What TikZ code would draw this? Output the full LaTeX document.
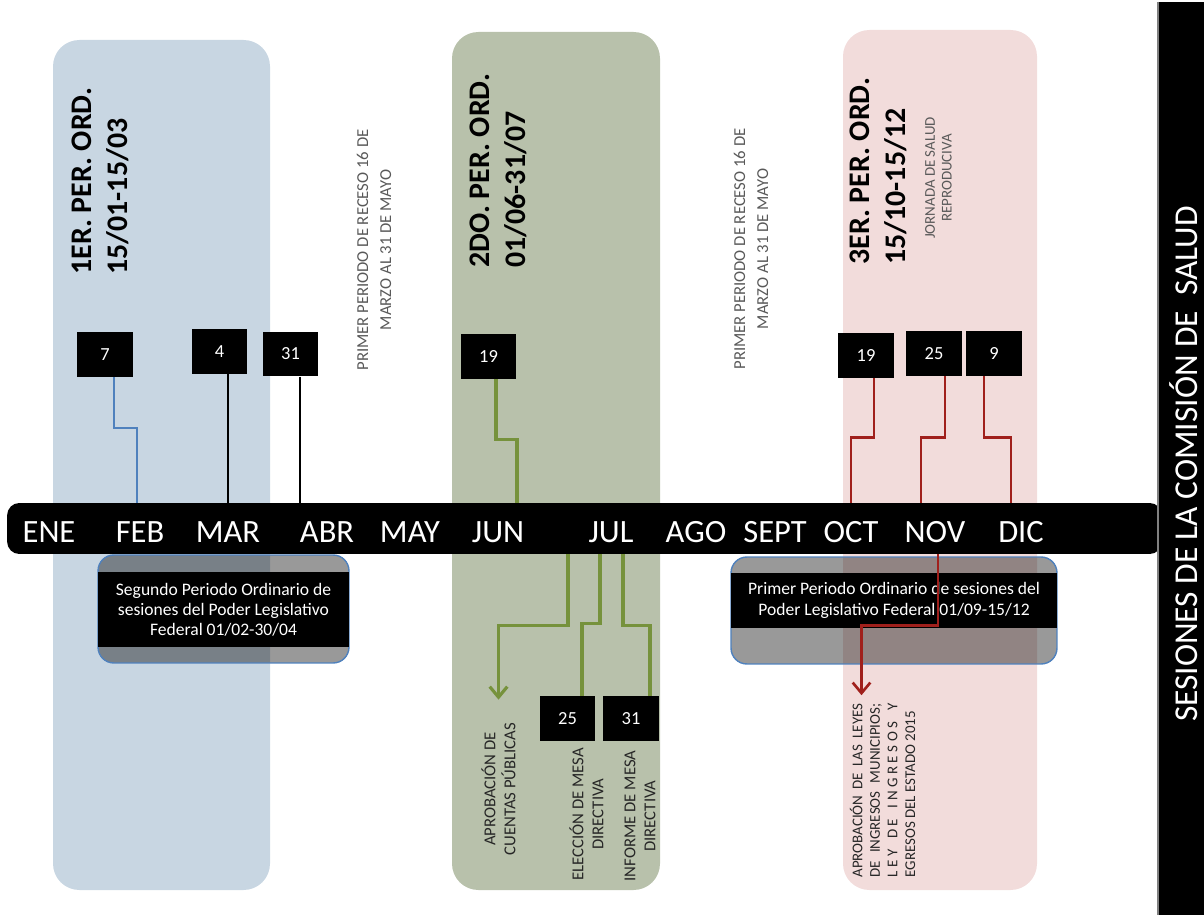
\documentclass[tikz,border=0pt]{standalone}
\usepackage{fontspec}
\setmainfont{Carlito}
\usepackage{tikz}
\usetikzlibrary{arrows.meta, positioning, calc}

\definecolor{boxblue}{RGB}{200,214,226}
\definecolor{boxgreen}{RGB}{184,193,171}
\definecolor{boxpink}{RGB}{242,220,219}
\definecolor{lineblue}{RGB}{79,129,189}
\definecolor{linegreen}{RGB}{118,146,60}
\definecolor{linered}{RGB}{160,32,28}
\definecolor{recessgray}{RGB}{89,89,89}

\tikzset{
  datebox/.style={fill=black, text=white, minimum width=31.5pt, minimum height=25.5pt, inner sep=0pt, font=\fontsize{10.5}{12}\selectfont},
  month/.style={text=white, inner sep=0pt, font=\fontsize{18.5}{20}\selectfont},
  pertitle/.style={rotate=90, anchor=north west, align=left, inner sep=0pt, font=\fontsize{17}{20}\selectfont\bfseries},
  recess/.style={rotate=90, align=center, inner sep=0pt, text=recessgray, font=\fontsize{9.5}{13}\selectfont},
  event/.style={rotate=90, align=center, inner sep=0pt, text=black!85, font=\fontsize{9.5}{11.3}\selectfont},
  lowerbox/.style={draw=lineblue, line width=0.8pt, fill=black, fill opacity=0.4, rounded corners=9pt, inner sep=0pt},
  band/.style={fill=black, text=white, align=center, inner sep=0pt, font=\fontsize{10}{11.5}\selectfont},
  blueline/.style={lineblue, line width=1.4pt},
  blackline/.style={black, line width=1.4pt},
  greenline/.style={linegreen, line width=1.8pt},
  redline/.style={linered, line width=1.5pt},
  barb/.style={-{Straight Barb[length=6pt,width=10pt]}}
}

\begin{document}
\begin{tikzpicture}[x=0.02cm,y=-0.02cm]
  \useasboundingbox (0,0) rectangle (1204,915);

  % periodos ordinarios
  \fill[boxblue, rounded corners=15pt] (53,40) rectangle (270,890);
  \fill[boxgreen, rounded corners=15pt] (452,32) rectangle (660,890);
  \fill[boxpink, rounded corners=15pt] (843,30) rectangle (1037,890);

  \node[pertitle] (per1) at (72,275) {1ER. PER. ORD.\\15/01-15/03};
  \node[pertitle] (per2) at (470,268) {2DO. PER. ORD.\\01/06-31/07};
  \node[pertitle] (per3) at (850,265) {3ER. PER. ORD.\\15/10-15/12};

  \node[recess] (rec1) at (374,250) {PRIMER PERIODO DE RECESO 16 DE\\MARZO AL 31 DE MAYO};
  \node[recess] (rec2) at (751,249) {PRIMER PERIODO DE RECESO 16 DE\\MARZO AL 31 DE MAYO};
  \node[recess, font=\fontsize{8.5}{9.6}\selectfont] (jornada) at (938.5,178) {JORNADA DE SALUD\\REPRODUCIVA};

  % linea del tiempo
  \node[fill=black, rounded corners=7pt, minimum width=23.1cm, minimum height=1.02cm, inner sep=0pt] (bar) at (584.5,528.5) {};
  \node[month] (mEne) at (49,532) {ENE};
  \node[month] (mFeb) at (140,532) {FEB};
  \node[month] (mMar) at (228,532) {MAR};
  \node[month] (mAbr) at (327,532) {ABR};
  \node[month] (mMay) at (410,532) {MAY};
  \node[month] (mJun) at (498,532) {JUN};
  \node[month] (mJul) at (611,532) {JUL};
  \node[month] (mAgo) at (696,532) {AGO};
  \node[month] (mSept) at (775,532) {SEPT};
  \node[month] (mOct) at (851,532) {OCT};
  \node[month] (mNov) at (935,532) {NOV};
  \node[month] (mDic) at (1021,532) {DIC};

  \coordinate (xFeb) at (137,0);
  \coordinate (xMar) at (228,0);
  \coordinate (xAbr) at (300,0);
  \coordinate (xJun) at (517,0);
  \coordinate (xOct) at (851,0);
  \coordinate (xNov) at (921,0);
  \coordinate (xDic) at (1011,0);
  \coordinate (xJul1) at (568,0);
  \coordinate (xJul2) at (600,0);
  \coordinate (xJul3) at (623,0);
  \coordinate (xNovB) at (938,0);

  % fechas
  \node[datebox] (d7) at (105,354.5) {7};
  \node[datebox] (d4) at (219.5,351.5) {4};
  \node[datebox] (d31) at (290.5,354) {31};
  \node[datebox] (d19a) at (488.5,356.5) {19};
  \node[datebox] (d19b) at (866,355.5) {19};
  \node[datebox] (d25a) at (934,353.5) {25};
  \node[datebox] (d9) at (994,353.5) {9};
  \node[datebox] (d25b) at (567.5,718.5) {25};
  \node[datebox] (d31b) at (631,718.5) {31};

  \draw[blueline] ($(d7.south)+(9,0)$) -- ++(0,51) -| (bar.north -| xFeb);
  \draw[blackline] (d4.south -| xMar) -- (bar.north -| xMar);
  \draw[blackline] (d31.south -| xAbr) -- (bar.north -| xAbr);
  \draw[greenline] ($(d19a.south)+(7.5,0)$) -- ++(0,60) -| (bar.north -| xJun);
  \draw[redline] ($(d19b.south)+(8,0)$) -- ++(0,59) -| (bar.north -| xOct);
  \draw[redline] ($(d25a.south)+(11,0)$) -- ++(0,61) -| (bar.north -| xNov);
  \draw[redline] ($(d9.south)+(-10,0)$) -- ++(0,61) -| (bar.north -| xDic);

  % textos de abajo
  \node[event] (aprob) at (498.5,789) {APROBACIÓN DE\\CUENTAS PÚBLICAS};
  \node[event] (elec) at (586.5,814) {ELECCIÓN DE MESA\\DIRECTIVA};
  \node[event] (inform) at (640,816) {INFORME DE MESA\\DIRECTIVA};
  \node[rotate=90, align=left, inner sep=0pt, text=black!85, font=\fontsize{8.5}{10}\selectfont] (leyes) at (882.5,790.5)
    {\makebox[99pt][s]{APROBACIÓN DE LAS LEYES}\\\makebox[99pt][s]{DE INGRESOS MUNICIPIOS;}\\\makebox[99pt][s]{L E Y \ \ D E \ \ I N G R E S O S \ \ Y}\\EGRESOS DEL ESTADO 2015};

  \draw[greenline, barb] (bar.south -| xJul1) -- ++(0,71) -| ([yshift=13pt]aprob.east);
  \draw[greenline] (bar.south -| xJul2) -- ++(0,69) -| ($(d25b.north)+(14.5,0)$);
  \draw[greenline] (bar.south -| xJul3) -- ++(0,71) -| ($(d31b.north)+(19,0)$);

  % periodos del poder legislativo
  \node[lowerbox, minimum width=5.02cm, minimum height=2.16cm] (febbox) at (223.5,609) {};
  \node[band, minimum width=5.02cm, minimum height=1.5cm] (febband) at (223.5,609.5)
    {Segundo Periodo Ordinario de\\sesiones del Poder Legislativo\\Federal 01/02-30/04};
  \node[lowerbox, minimum width=6.52cm, minimum height=2.14cm] (sepbox) at (894,610.5) {};
  \node[band, minimum width=6.52cm, minimum height=1.1cm] (sepband) at (894,600.5)
    {Primer Periodo Ordinario de sesiones del\\Poder Legislativo Federal 01/09-15/12};

  \draw[redline, barb] (bar.south -| xNovB) -- ++(0,71) -| ($(leyes.north east)+(12,-8)$);

  % titulo
  \fill[black] (1158,2) rectangle (1204,915);
  \draw[gray, line width=0.8pt] (1158,2) -- (1158,915);
  \node[rotate=90, anchor=base, inner sep=0pt, text=white, font=\fontsize{19}{22}\selectfont] (titulo) at (1197,464)
    {SESIONES DE LA COMISIÓN DE\ \ SALUD};
\end{tikzpicture}
\end{document}
